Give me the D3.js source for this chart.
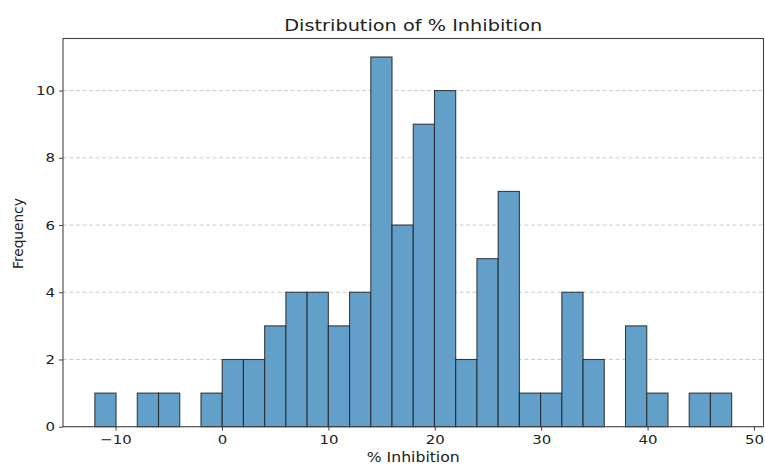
<!DOCTYPE html>
<html><head><meta charset="utf-8">
<script src="https://cdn.jsdelivr.net/npm/d3@7"></script>
<style>
html,body{margin:0;padding:0;background:#fff;}
svg{display:block;font-family:"DejaVu Sans",sans-serif;}
</style></head>
<body>
<svg id="c" width="765" height="466"></svg>
<script>
const title = "Distribution of % Inhibition";
const xLabel = "% Inhibition";
const yLabel = "Frequency";
const binMin = -11.95;
const binMax = 47.9;
const counts = [1,0,1,1,0,1,2,2,3,4,4,3,4,11,6,9,10,2,5,7,1,1,4,2,0,3,1,0,1,1];
const xTicks = [-10,0,10,20,30,40,50];
const yTicks = [0,2,4,6,8,10];

const svg = d3.select("#c");
const W = 765, H = 466;
const m = {left:63, right:W-763.5, top:38.5, bottom:H-426.7};
const stretch = 1.15;
const nb = counts.length;
const bw = (binMax - binMin) / nb;
const bins = counts.map((c,i)=>({x0: binMin + i*bw, x1: binMin + (i+1)*bw, c}));
const pad = (binMax - binMin) * 0.05;
const x = d3.scaleLinear().domain([binMin - pad, binMax + pad]).range([m.left, W - m.right]);
const yMax = d3.max(counts) * 1.05;
const y = d3.scaleLinear().domain([0, yMax]).range([H - m.bottom, m.top]);

function widen(sel, k){
  sel.each(function(){
    const len = this.getComputedTextLength();
    d3.select(this).attr("textLength", len*k).attr("lengthAdjust","spacingAndGlyphs");
  });
}

// grid
svg.append("g").selectAll("line").data(yTicks).join("line")
  .attr("x1", m.left).attr("x2", W - m.right)
  .attr("y1", d=>y(d)).attr("y2", d=>y(d))
  .attr("stroke", "#b0b0b0").attr("stroke-opacity", 0.7)
  .attr("stroke-width", 0.9).attr("stroke-dasharray", "4,2.5");

// bars
svg.append("g").selectAll("rect").data(bins.filter(b=>b.c>0)).join("rect")
  .attr("x", d=>x(d.x0)).attr("width", d=>x(d.x1)-x(d.x0))
  .attr("y", d=>y(d.c)).attr("height", d=>y(0)-y(d.c))
  .attr("fill", "#62a0ca").attr("stroke", "#222").attr("stroke-opacity", 0.85)
  .attr("stroke-width", 1.1);

// axes
const xa = svg.append("g").attr("transform", `translate(0,${H - m.bottom})`)
  .call(d3.axisBottom(x).tickValues(xTicks).tickSize(4).tickPadding(4).tickFormat(d=> d<0 ? "\u2212"+Math.abs(d) : d));
const ya = svg.append("g").attr("transform", `translate(${m.left},0)`)
  .call(d3.axisLeft(y).tickValues(yTicks).tickSize(4).tickPadding(4));
[xa, ya].forEach(a=>{
  a.select(".domain").remove();
  a.selectAll("line").attr("stroke", "#333").attr("stroke-width", 0.9);
  a.selectAll("text").attr("font-family","DejaVu Sans").attr("font-size", 13).attr("fill", "#222");
  widen(a.selectAll("text"), stretch);
});

// frame
svg.append("rect").attr("x", m.left).attr("y", m.top)
  .attr("width", W - m.right - m.left).attr("height", H - m.bottom - m.top)
  .attr("fill", "none").attr("stroke", "#444").attr("stroke-width", 1.1);

const t = svg.append("text").attr("x", (m.left + W - m.right)/2).attr("y", 31)
  .attr("text-anchor","middle").attr("font-size", 16.4).attr("fill","#222").text(title);
t.attr("textLength", 258).attr("lengthAdjust","spacingAndGlyphs");
const xl = svg.append("text").attr("x", (m.left + W - m.right)/2).attr("y", 462)
  .attr("text-anchor","middle").attr("font-size", 13.5).attr("fill","#222").text(xLabel);
xl.attr("textLength", 93).attr("lengthAdjust","spacingAndGlyphs");
svg.append("text").attr("transform", `translate(23,${(m.top + H - m.bottom)/2 + 1}) rotate(-90)`)
  .attr("text-anchor","middle").attr("font-size", 13.7).attr("fill","#222").text(yLabel);
</script>
</body></html>
